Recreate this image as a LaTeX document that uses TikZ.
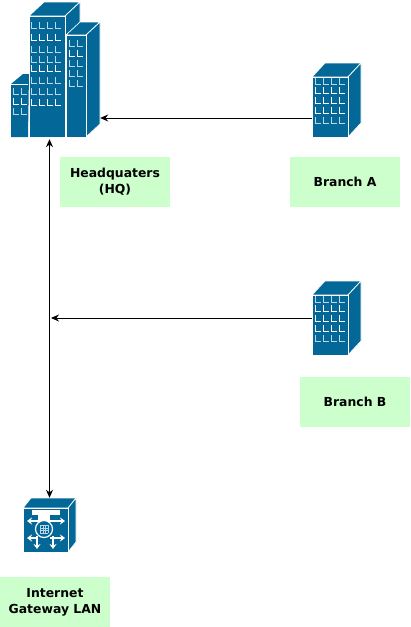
\documentclass[tikz,border=0pt]{standalone}
\usepackage{fontspec}
\setmainfont{DejaVu Sans}
\usepackage{xcolor}
\usetikzlibrary{arrows.meta}
\definecolor{iconblue}{HTML}{036897}
\definecolor{labelgreen}{HTML}{CCFFCC}
\definecolor{winblue}{HTML}{BBD6E4}

% block #1,#2 = front top left, #3,#4 = front size, #5,#6 = depth
\newcommand{\officeblock}[6]{
  \fill[iconblue, draw=white, line width=0.7pt]
    (#1,#2) -- ++(#5,-#6) -- ++(#3,0) -- ++(-#5,#6) -- cycle;
  \fill[iconblue, draw=white, line width=0.7pt]
    (#1+#3,#2) -- ++(#5,-#6) -- ++(0,#4) -- ++(-#5,#6) -- cycle;
  \fill[iconblue, draw=white, line width=0.9pt] (#1,#2) rectangle ++(#3,#4);
}
% window marks: #1 = list of x, #2 = list of y
\newcommand{\windowmarks}[2]{
  \foreach \wx in {#1}
    \foreach \wy/\wc in {#2}
      \draw[\wc, line width=1pt] (\wx,\wy-6) -- (\wx,\wy) -- (\wx+5.5,\wy);
}

\begin{document}
\begin{tikzpicture}[
    x=1pt, y=-1pt,
    every node/.style={font=\bfseries\fontsize{12.4}{16}\selectfont, align=center},
    iconspot/.style={inner sep=0pt, minimum width=#1},
    labelbox/.style={fill=labelgreen, inner sep=0pt, minimum width=110pt, minimum height=50pt},
    link/.style={line width=1pt, -{Stealth[length=8pt, width=7pt]}},
    twolink/.style={line width=1pt, {Stealth[length=8pt, width=7pt]}-{Stealth[length=8pt, width=7pt]}},
  ]
  \useasboundingbox (0,0) rectangle (410,627);

  % headquarters
  \officeblock{29}{16}{36}{121}{15}{14}
  \officeblock{66}{35}{20}{102}{14}{13}
  \fill[iconblue] (11,137) -- (11,84) -- (23,74) -- (29,74) -- (28,137) -- cycle;
  \draw[white, line width=0.7pt] (11,84) -- (28,84);
  \windowmarks{31,39,47,55}{28/winblue,40/white,52/winblue,62/winblue,71/white,83/winblue,94/winblue,105/white}
  \windowmarks{69,77}{46/winblue,56/white,66/winblue,76/winblue,86/winblue}
  \windowmarks{13,21}{94/winblue,104/white,114/winblue}

  % branch A
  \officeblock{312}{77}{36}{60}{13}{14}
  \windowmarks{315,323,331,339}{84/winblue,93/white,103/white,113/white,123/winblue}

  % branch B
  \officeblock{312}{295}{36}{60}{13}{14}
  \windowmarks{315,323,331,339}{302/winblue,311/white,321/white,331/white,341/winblue}

  % gateway
  \officeblock{23}{508}{45}{44}{8}{10}
  \fill[white] (32,510) rectangle (60,515);
  \fill[white] (38,515) rectangle (50,522);
  \foreach \ax/\ay/\bx/\by in {38/521/27/521, 50/521/65/521, 38/538/27/538, 50/538/65/538, 37/536/37/549, 53/536/53/549}
    \draw[white, line width=2pt, -{Stealth[length=5pt, width=7pt]}] (\ax,\ay) -- (\bx,\by);
  \fill[iconblue, draw=white, line width=1.2pt] (44,529) circle (8.5);
  \foreach \gx in {40.5,43,45.5,48}
    \draw[winblue, line width=0.6pt] (\gx,525) -- (\gx,533);
  \foreach \gy in {525.5,528,530.5,533}
    \draw[winblue, line width=0.6pt] (40,\gy) -- (48,\gy);

  \node[iconspot=89pt, minimum height=135pt] (hq) at (55.5,69.5) {};
  \node[iconspot=49pt, minimum height=74pt] (brancha) at (336.5,100) {};
  \node[iconspot=49pt, minimum height=74pt] (branchb) at (336.5,318) {};
  \node[iconspot=53pt, minimum height=54pt] (gateway) at (49.5,525) {};
  \coordinate (trunk) at (51,318);

  \node[labelbox] (hqlabel) at (115,182) {Headquaters\\(HQ)};
  \node[labelbox] (brancha label) at (345,182) {Branch A};
  \node[labelbox] (branchb label) at (355,402) {Branch B};
  \node[labelbox] (gateway label) at (55,602) {Internet\\Gateway LAN};

  \draw[link] ([yshift=-18pt]brancha.west) -- ([yshift=-48.5pt]hq.east);
  \draw[link] (branchb.west) -- (trunk);
  \draw[twolink] ([xshift=-6pt, yshift=-2pt]hq.south) -- (gateway.north);
\end{tikzpicture}
\end{document}
